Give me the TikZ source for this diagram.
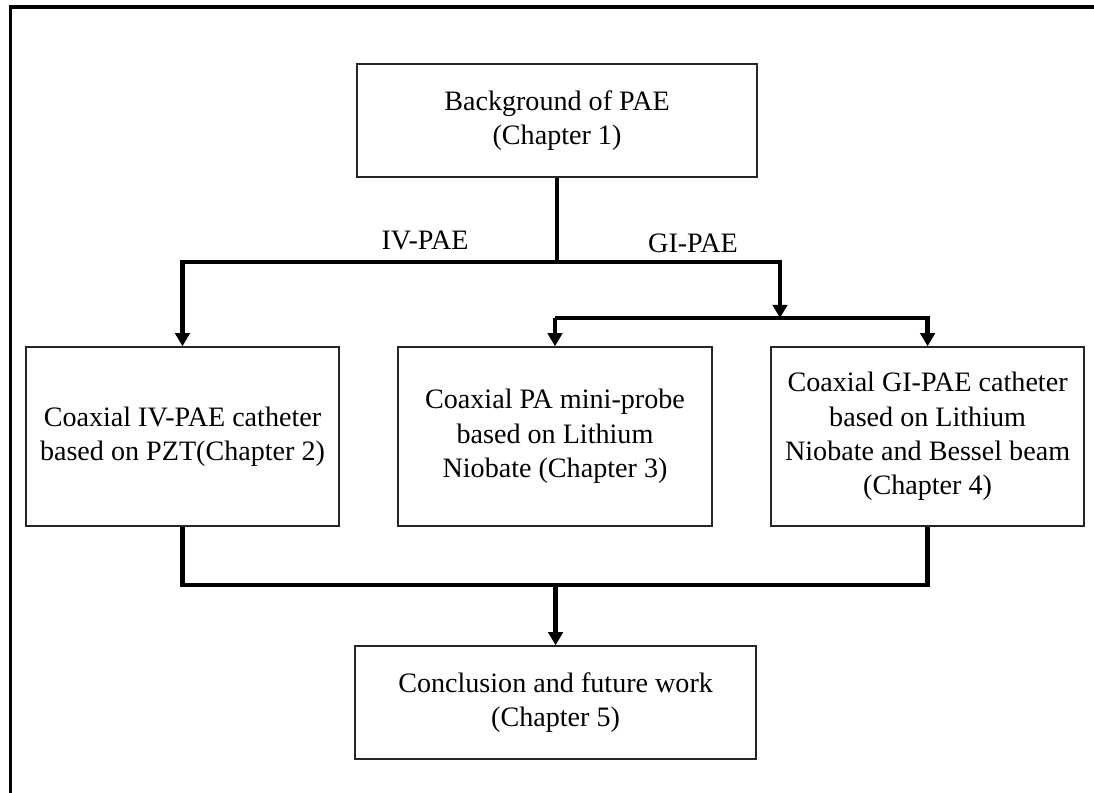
\documentclass[tikz,border=0pt]{standalone}
\usepackage{fontspec}
\setmainfont{Liberation Serif}
\usetikzlibrary{arrows.meta,calc}
\tikzset{
  >={Triangle[length=3.3mm,width=3.6mm]},
  chap/.style={draw=black!85,line width=1pt,fill=white,align=center,
    font=\fontsize{20}{24.5}\selectfont,inner sep=0pt},
  link/.style={line width=3.5pt,draw=black},
  tag/.style={font=\fontsize{20}{24}\selectfont},
  frame/.style={line width=2.2pt,draw=black},
}

\begin{document}
\begin{tikzpicture}
  \useasboundingbox (0,0) rectangle (27.35,19.825);
  \draw[frame] (0.26,0) -- (0.26,19.65) -- (27.35,19.65);
  % chapters
  \node[chap,minimum width=10cm,minimum height=2.825cm] (bg) at (13.925,16.81) {Background of PAE\\(Chapter 1)};
  \node[chap,minimum width=7.825cm,minimum height=4.475cm] (c2) at (4.5625,8.9125) {Coaxial IV-PAE catheter\\based on PZT(Chapter 2)};
  \node[chap,minimum width=7.85cm,minimum height=4.475cm] (c3) at (13.875,8.9125) {Coaxial PA mini-probe\\based on Lithium\\Niobate (Chapter 3)};
  \node[chap,minimum width=7.825cm,minimum height=4.475cm] (c4) at (23.19,8.9125) {Coaxial GI-PAE catheter\\based on Lithium\\Niobate and Bessel beam\\(Chapter 4)};
  \node[chap,minimum width=10.025cm,minimum height=2.825cm] (c5) at (13.89,2.2625) {Conclusion and future work\\(Chapter 5)};
  % branch labels
  \node[tag] (ivlab) at (10.625,13.825) {IV-PAE};
  \node[tag] (gilab) at (17.325,13.75) {GI-PAE};
  % junctions
  \coordinate (jl) at (4.5625,13.275);
  \coordinate (jr) at (19.5,13.275);
  \coordinate (jg) at (19.5,11.875);
  \coordinate (jb) at (13.89,5.2);
  \draw[link] (bg.south) -- (bg.south |- jl);
  \draw[link,->] (bg.south |- jl) -- (jl) -- (c2.north);
  \draw[link,->] (bg.south |- jl) -- (jr) -- (jg);
  \draw[link,->] (c3.north |- jg) -- (c3.north);
  \draw[link,->] (c3.north |- jg) -- (c4.north |- jg) -- (c4.north);
  \draw[link] (c2.south) -- (c2.south |- jb) -- (c4.south |- jb) -- (c4.south);
  \draw[link,->] (c5.north |- jb) -- (c5.north);
\end{tikzpicture}
\end{document}
